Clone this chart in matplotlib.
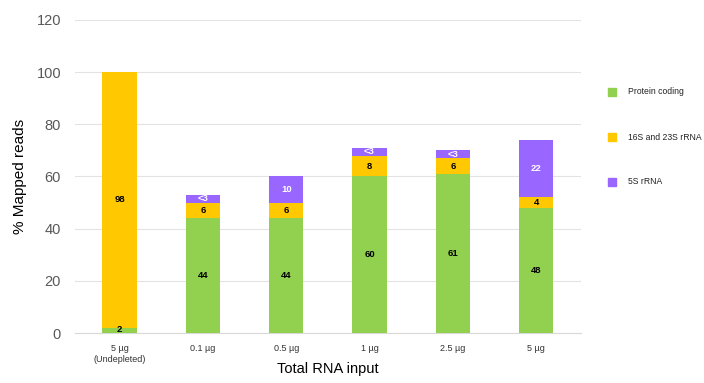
"""Stacked bar chart of mapped read fractions by total RNA input."""

import matplotlib
matplotlib.use('Agg')
matplotlib.rcParams['font.family'] = ['Liberation Sans', 'DejaVu Sans']
import matplotlib.pyplot as plt
import numpy as np

CATEGORIES = ['5 µg\n(Undepleted)', '0.1 µg', '0.5 µg', '1 µg', '2.5 µg', '5 µg']
PROTEIN_CODING = [2, 44, 44, 60, 61, 48]
RRNA_16S_23S = [98, 6, 6, 8, 6, 4]
RRNA_5S = [0, 3, 10, 3, 3, 22]
LABELS_5S = ['', '<3', '10', '<3', '<3', '22']
SERIES_NAMES = ['Protein coding', '16S and 23S rRNA', '5S rRNA']

GREEN = '#92d050'
YELLOW = '#ffc800'
PURPLE = '#9966ff'


def main():
    fig = plt.figure(figsize=(7.04, 3.83), dpi=100)
    ax = fig.add_axes([0.1065, 0.1305, 0.7185, 0.8175])

    x = np.arange(len(CATEGORIES))
    width = 0.41
    protein = np.array(PROTEIN_CODING)
    r16 = np.array(RRNA_16S_23S)
    r5 = np.array(RRNA_5S)

    ax.bar(x, protein, width, color=GREEN, zorder=3)
    ax.bar(x, r16, width, bottom=protein, color=YELLOW, zorder=3)
    ax.bar(x, r5, width, bottom=protein + r16, color=PURPLE, zorder=3)

    # segment labels
    for i in range(len(x)):
        ax.text(x[i], protein[i] / 2 + (0.4 if protein[i] < 5 else 0), str(protein[i]),
                ha='center', va='center', fontsize=6.8, fontweight='bold', zorder=4)
        ax.text(x[i], protein[i] + r16[i] / 2, str(r16[i]),
                ha='center', va='center', fontsize=6.8, fontweight='bold', zorder=4)
        if LABELS_5S[i]:
            ax.text(x[i], protein[i] + r16[i] + r5[i] / 2, LABELS_5S[i],
                    ha='center', va='center', fontsize=6.8, fontweight='bold',
                    color='white', zorder=4)

    ax.set_xlim(-0.535, len(x) - 0.465)
    ax.set_ylim(0, 120)
    ax.set_yticks(range(0, 121, 20))
    ax.set_xticks(x)
    ax.set_xticklabels(CATEGORIES, fontsize=6.5, color='#333333', linespacing=1.3)
    ax.tick_params(axis='y', labelsize=10.5, colors='#595959', length=0, pad=10)
    ax.tick_params(axis='x', length=0, pad=8)

    for side in ('top', 'right', 'left'):
        ax.spines[side].set_visible(False)
    ax.spines['bottom'].set_color('#d9d9d9')
    ax.yaxis.grid(color='#e3e3e3', linewidth=0.8, zorder=0)

    ax.set_ylabel('% Mapped reads', fontsize=11)
    ax.yaxis.set_label_coords(-0.095, 0.5)
    fig.text(0.466, 0.036, 'Total RNA input', fontsize=10.5, ha='center', va='center')

    # legend drawn on the right
    legend_y = [0.76, 0.642, 0.525]
    for name, color, ly in zip(SERIES_NAMES, [GREEN, YELLOW, PURPLE], legend_y):
        fig.patches.append(matplotlib.patches.Rectangle(
            (0.864, ly - 0.0105), 0.0114, 0.021, color=color, transform=fig.transFigure))
        fig.text(0.892, ly, name, fontsize=6.2, va='center', color='#222222')

    fig.savefig('out.png', dpi=100)


if __name__ == '__main__':
    main()
